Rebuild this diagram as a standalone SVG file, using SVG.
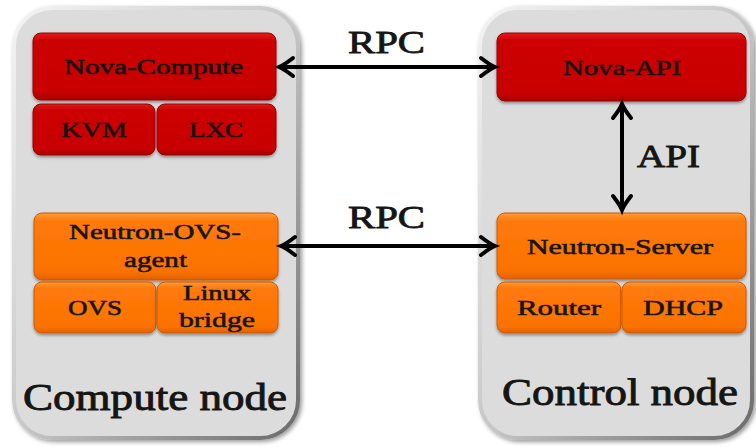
<svg xmlns="http://www.w3.org/2000/svg" width="756" height="447" viewBox="0 0 756 447" font-family="'Liberation Serif', 'DejaVu Serif', serif">
<defs>
<style>
text{font-family:'Liberation Serif','DejaVu Serif',serif;font-weight:normal;fill:#151515;stroke:#151515;stroke-width:0.55;}
.lbl{font-size:21px;}
.big{font-size:38px;stroke-width:0.9;}
.mid{font-size:31px;stroke-width:0.8;}
.conn{stroke:#000;stroke-width:4;fill:none;}
.red{fill:url(#gRed);stroke:#9c0000;stroke-width:1;filter:url(#sh);}
.org{fill:url(#gOrg);stroke:#cf5a00;stroke-width:1;filter:url(#sh);}
.cont{fill:#dcdcdc;stroke:url(#gEdge);stroke-width:4;filter:url(#sh2);}
</style>
<linearGradient id="gRed" x1="0" y1="0" x2="0" y2="1">
<stop offset="0" stop-color="#e01a1a"/>
<stop offset="0.12" stop-color="#cc0000"/>
<stop offset="0.88" stop-color="#c80000"/>
<stop offset="1" stop-color="#a80000"/>
</linearGradient>
<linearGradient id="gOrg" x1="0" y1="0" x2="0" y2="1">
<stop offset="0" stop-color="#ff9a3a"/>
<stop offset="0.12" stop-color="#ff7a0a"/>
<stop offset="0.88" stop-color="#fb7200"/>
<stop offset="1" stop-color="#e06000"/>
</linearGradient>
<linearGradient id="gEdge" x1="0" y1="0" x2="1" y2="1">
<stop offset="0" stop-color="#f4f4f4"/>
<stop offset="0.5" stop-color="#c8c8c8"/>
<stop offset="1" stop-color="#6a6a6a"/>
</linearGradient>
<filter id="sh" x="-10%" y="-10%" width="120%" height="130%">
<feDropShadow dx="0" dy="2" stdDeviation="1.5" flood-color="#000" flood-opacity="0.35"/>
</filter>
<filter id="sh2" x="-10%" y="-10%" width="120%" height="120%">
<feDropShadow dx="2" dy="2" stdDeviation="2" flood-color="#000" flood-opacity="0.4"/>
</filter>
<marker id="arr" markerUnits="userSpaceOnUse" markerWidth="30" markerHeight="30" viewBox="-20 -15 30 30" refX="0" refY="0" orient="auto-start-reverse">
<path d="M-14,-9 Q-5,-2 0,0 Q-5,2 -14,9" stroke="#000" stroke-width="4" fill="none" stroke-linecap="round"/>
</marker>
</defs>
<rect x="0" y="0" width="756" height="447" fill="#fff"/>

<g id="compute-node">
<rect class="cont" x="14" y="8" width="284" height="430" rx="38"/>
<text class="big" x="23" y="410" textLength="264" lengthAdjust="spacingAndGlyphs">Compute node</text>
</g>
<g id="control-node">
<rect class="cont" x="480" y="8" width="272" height="430" rx="38"/>
<text class="big" x="502" y="405" textLength="236" lengthAdjust="spacingAndGlyphs">Control node</text>
</g>

<g id="nova-compute">
<rect class="red" x="33" y="33" width="243" height="67" rx="8"/>
<text class="lbl" x="64" y="74" textLength="179" lengthAdjust="spacingAndGlyphs">Nova-Compute</text>
</g>
<g id="kvm">
<rect class="red" x="33" y="104" width="122" height="51" rx="8"/>
<text class="lbl" x="61" y="137" textLength="66" lengthAdjust="spacingAndGlyphs">KVM</text>
</g>
<g id="lxc">
<rect class="red" x="157" y="104" width="119" height="51" rx="8"/>
<text class="lbl" x="189" y="137" textLength="54" lengthAdjust="spacingAndGlyphs">LXC</text>
</g>

<g id="neutron-ovs-agent">
<rect class="org" x="34" y="213" width="244" height="67" rx="8"/>
<text class="lbl" x="69" y="239" textLength="172" lengthAdjust="spacingAndGlyphs">Neutron-OVS-</text>
<text class="lbl" x="124" y="267" textLength="63" lengthAdjust="spacingAndGlyphs">agent</text>
</g>
<g id="ovs">
<rect class="org" x="34" y="282" width="122" height="51" rx="8"/>
<text class="lbl" x="68" y="315" textLength="54" lengthAdjust="spacingAndGlyphs">OVS</text>
</g>
<g id="linux-bridge">
<rect class="org" x="157" y="282" width="121" height="51" rx="8"/>
<text class="lbl" x="183" y="300" textLength="68" lengthAdjust="spacingAndGlyphs">Linux</text>
<text class="lbl" x="179" y="327" textLength="76" lengthAdjust="spacingAndGlyphs">bridge</text>
</g>

<g id="nova-api">
<rect class="red" x="497" y="33" width="249" height="68" rx="8"/>
<text class="lbl" x="563" y="75" textLength="118" lengthAdjust="spacingAndGlyphs">Nova-API</text>
</g>
<g id="neutron-server">
<rect class="org" x="497" y="213" width="249" height="66" rx="8"/>
<text class="lbl" x="527" y="254" textLength="186" lengthAdjust="spacingAndGlyphs">Neutron-Server</text>
</g>
<g id="router">
<rect class="org" x="497" y="282" width="124" height="51" rx="8"/>
<text class="lbl" x="517" y="315" textLength="84" lengthAdjust="spacingAndGlyphs">Router</text>
</g>
<g id="dhcp">
<rect class="org" x="622" y="282" width="124" height="51" rx="8"/>
<text class="lbl" x="643" y="315" textLength="80" lengthAdjust="spacingAndGlyphs">DHCP</text>
</g>

<g id="connectors">
<line class="conn" x1="279" y1="67" x2="495" y2="67" marker-start="url(#arr)" marker-end="url(#arr)"/>
<text class="mid" x="348" y="53" textLength="77" lengthAdjust="spacingAndGlyphs">RPC</text>
<line class="conn" x1="281" y1="246" x2="495" y2="246" marker-start="url(#arr)" marker-end="url(#arr)"/>
<text class="mid" x="348" y="228" textLength="77" lengthAdjust="spacingAndGlyphs">RPC</text>
<line class="conn" x1="622" y1="104" x2="622" y2="210" marker-start="url(#arr)" marker-end="url(#arr)"/>
<text class="mid" x="637" y="167" textLength="63" lengthAdjust="spacingAndGlyphs">API</text>
</g>
</svg>
